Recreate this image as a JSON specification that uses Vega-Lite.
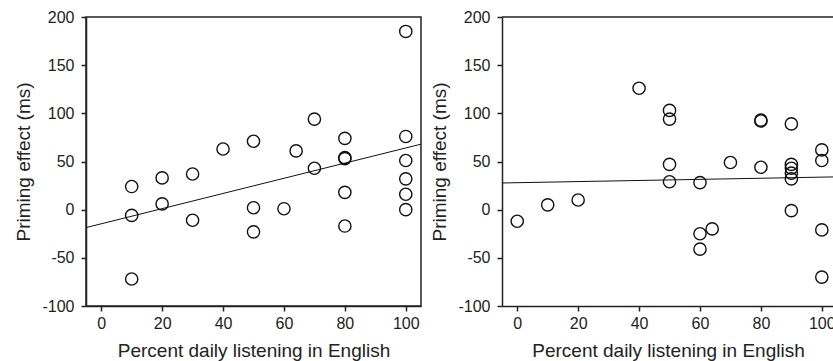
{
  "$schema": "https://vega.github.io/schema/vega-lite/v6.json",
  "padding": {"left": 14, "top": 8, "right": 0, "bottom": 0},
  "spacing": 6,
  "config": {
    "font": "Liberation Sans",
    "view": {"stroke": null},
    "axis": {
      "grid": false,
      "domainColor": "#222",
      "domainWidth": 1.5,
      "tickColor": "#222",
      "tickWidth": 1.5,
      "tickSize": 5,
      "labelFontSize": 16,
      "labelColor": "#222",
      "titleFontSize": 19,
      "titleFontWeight": "normal",
      "titleColor": "#222"
    },
    "axisX": {"labelPadding": 4, "titlePadding": 10},
    "axisY": {"labelPadding": 7, "titlePadding": 8}
  },
  "datasets": {
    "listen": [
      {"pct": 10, "effect": 24}, {"pct": 10, "effect": -6}, {"pct": 10, "effect": -72},
      {"pct": 20, "effect": 33}, {"pct": 20, "effect": 6},
      {"pct": 30, "effect": 37}, {"pct": 30, "effect": -11},
      {"pct": 40, "effect": 63},
      {"pct": 50, "effect": 71}, {"pct": 50, "effect": 2}, {"pct": 50, "effect": -23},
      {"pct": 60, "effect": 1}, {"pct": 64, "effect": 61},
      {"pct": 70, "effect": 94}, {"pct": 70, "effect": 43},
      {"pct": 80, "effect": 74}, {"pct": 80, "effect": 54}, {"pct": 80, "effect": 53}, {"pct": 80, "effect": 18}, {"pct": 80, "effect": -17},
      {"pct": 100, "effect": 185}, {"pct": 100, "effect": 76}, {"pct": 100, "effect": 51}, {"pct": 100, "effect": 32}, {"pct": 100, "effect": 16}, {"pct": 100, "effect": 0}
    ],
    "meaning": [
      {"pct": 0, "effect": -12}, {"pct": 10, "effect": 5}, {"pct": 20, "effect": 10},
      {"pct": 40, "effect": 126},
      {"pct": 50, "effect": 103}, {"pct": 50, "effect": 94}, {"pct": 50, "effect": 47}, {"pct": 50, "effect": 29},
      {"pct": 60, "effect": 28}, {"pct": 60, "effect": -25}, {"pct": 60, "effect": -41}, {"pct": 64, "effect": -20},
      {"pct": 70, "effect": 49},
      {"pct": 80, "effect": 93}, {"pct": 80, "effect": 92}, {"pct": 80, "effect": 44},
      {"pct": 90, "effect": 89}, {"pct": 90, "effect": 47}, {"pct": 90, "effect": 43}, {"pct": 90, "effect": 38}, {"pct": 90, "effect": 32}, {"pct": 90, "effect": -1},
      {"pct": 100, "effect": 62}, {"pct": 100, "effect": 51}, {"pct": 100, "effect": -21}, {"pct": 100, "effect": -70}
    ],
    "fitListen": [{"pct": -5, "effect": -18.6}, {"pct": 105, "effect": 68}],
    "fitMeaning": [{"pct": -5, "effect": 27.7}, {"pct": 104, "effect": 34}]
  },
  "hconcat": [
    {
      "width": 335,
      "height": 289,
      "view": {"stroke": "#222", "strokeWidth": 1.5},
      "encoding": {
        "x": {"field": "pct", "type": "quantitative", "scale": {"domain": [-5, 105], "nice": false, "zero": false},
              "axis": {"values": [0, 20, 40, 60, 80, 100], "title": "Percent daily listening in English"}},
        "y": {"field": "effect", "type": "quantitative", "scale": {"domain": [-100, 200], "nice": false, "zero": false},
              "axis": {"values": [-100, -50, 0, 50, 100, 150, 200], "title": "Priming effect (ms)",
                       "labelExpr": "datum.value < 0 ? '-' + abs(datum.value) : '' + datum.value"}}
      },
      "layer": [
        {"data": {"name": "fitListen"}, "mark": {"type": "line", "color": "#111", "strokeWidth": 1}},
        {"data": {"name": "listen"}, "mark": {"type": "point", "shape": "circle", "filled": false, "color": "#111", "strokeWidth": 1.4, "size": 150, "opacity": 1}},
        {"data": {"values": [{"label": "Just listen (n = 26)"}]},
         "mark": {"type": "text", "align": "left", "baseline": "alphabetic", "fontSize": 15.5, "color": "#111"},
         "encoding": {"x": {"datum": -2.4}, "y": {"datum": 179}, "text": {"field": "label"}}}
      ]
    },
    {
      "width": 332,
      "height": 289,
      "encoding": {
        "x": {"field": "pct", "type": "quantitative", "scale": {"domain": [-5, 104], "nice": false, "zero": false},
              "axis": {"values": [0, 20, 40, 60, 80, 100], "title": "Percent daily listening in English"}},
        "y": {"field": "effect", "type": "quantitative", "scale": {"domain": [-100, 200], "nice": false, "zero": false},
              "axis": {"values": [-100, -50, 0, 50, 100, 150, 200], "title": "Priming effect (ms)",
                       "labelExpr": "datum.value < 0 ? '-' + abs(datum.value) : '' + datum.value"}}
      },
      "layer": [
        {"data": {"values": [{"top": 200}]}, "mark": {"type": "rule", "color": "#222", "strokeWidth": 1.5}, "encoding": {"x": null, "y": {"field": "top", "type": "quantitative"}}},
        {"data": {"name": "fitMeaning"}, "mark": {"type": "line", "color": "#111", "strokeWidth": 1}},
        {"data": {"name": "meaning"}, "mark": {"type": "point", "shape": "circle", "filled": false, "color": "#111", "strokeWidth": 1.4, "size": 150, "opacity": 1}},
        {"data": {"values": [{"label": "Focus on meaning (n = 26)"}]},
         "mark": {"type": "text", "align": "left", "baseline": "alphabetic", "fontSize": 15.5, "color": "#111"},
         "encoding": {"x": {"datum": -2.4}, "y": {"datum": 179}, "text": {"field": "label"}}}
      ]
    }
  ]
}
